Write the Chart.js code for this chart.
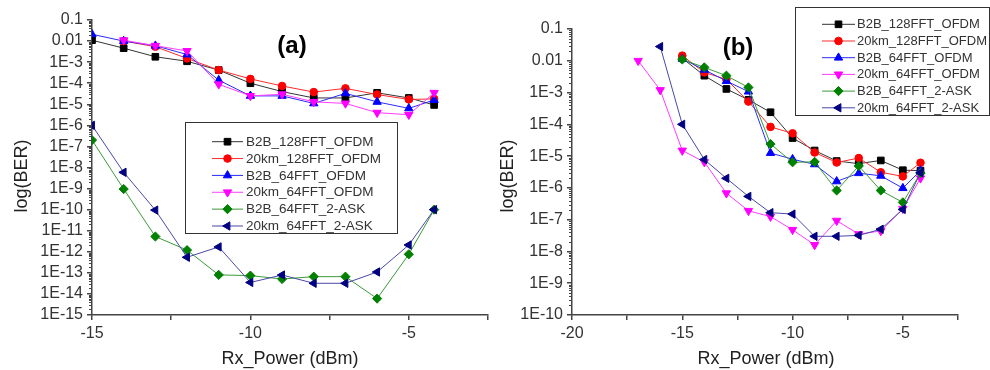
<!DOCTYPE html>
<html>
<head>
<meta charset="utf-8">
<script src="https://cdn.jsdelivr.net/npm/chart.js@4"></script>
<style>
html, body { margin: 0; padding: 0; background: #fff; }
body { width: 990px; height: 370px; position: relative; overflow: hidden; }
.panel { position: absolute; top: 0; width: 495px; height: 370px; }
</style>
</head>
<body>
<div class="panel" style="left:0"><canvas id="cA" width="495" height="370"></canvas></div>
<div class="panel" style="left:495px"><canvas id="cB" width="495" height="370"></canvas></div>
<script>
// series names (same in both panels)
const names = ['B2B_128FFT_OFDM', '20km_128FFT_OFDM', 'B2B_64FFT_OFDM',
               '20km_64FFT_OFDM', 'B2B_64FFT_2-ASK', '20km_64FFT_2-ASK'];

// panel (a)
const xA = [-15, -14, -13, -12, -11, -10, -9, -8, -7, -6, -5, -4.2];
const a_b2b128   = [1.1e-2, 4.6e-3, 1.8e-3, 1.1e-3, 4.2e-4, 1.0e-4, 4.0e-5, 2.0e-5, 2.0e-5, 3.5e-5, 2.0e-5, 9.3e-6];
const a_20km128  = [null, 1.0e-2, 5.4e-3, 1.5e-3, 4.2e-4, 1.6e-4, 7.4e-5, 3.8e-5, 5.7e-5, 2.9e-5, 1.7e-5, 1.8e-5];
const a_b2b64    = [2.1e-2, 1.0e-2, 6.0e-3, 2.3e-3, 1.4e-4, 2.5e-5, 2.5e-5, 1.1e-5, 3.3e-5, 1.3e-5, 6.4e-6, 1.6e-5];
const a_20km64   = [null, 1.1e-2, 6.0e-3, 3.4e-3, 8.9e-5, 2.5e-5, 3.0e-5, 1.3e-5, 1.1e-5, 4.0e-6, 3.2e-6, 3.5e-5];
const a_b2bask   = [2.0e-7, 9.5e-10, 5.3e-12, 1.2e-12, 8.0e-14, 7.4e-14, 5.1e-14, 6.6e-14, 6.6e-14, 6.0e-15, 7.6e-13, 1.0e-10];
const a_20kmask  = [1.0e-6, 5.9e-9, 9.5e-11, 5.5e-13, 1.7e-12, 3.5e-14, 7.9e-14, 3.2e-14, 3.2e-14, 1.1e-13, 2.1e-12, 1.0e-10];

// panel (b)
const xB = [-17, -16, -15, -14, -13, -12, -11, -10, -9, -8, -7, -6, -5, -4.2];
const b_b2b128   = [null, null, 1.2e-2, 3.4e-3, 1.3e-3, 5.9e-4, 2.4e-4, 3.7e-5, 1.5e-5, 7.0e-6, 5.8e-6, 7.3e-6, 3.6e-6, 3.5e-6];
const b_20km128  = [null, null, 1.45e-2, 4.3e-3, 2.6e-3, 5.2e-4, 8.3e-5, 5.2e-5, 1.3e-5, 6.3e-6, 8.7e-6, 3.1e-6, 2.3e-6, 6.2e-6];
const b_b2b64    = [null, null, 1.15e-2, 5.2e-3, 2.3e-3, 1.07e-3, 1.25e-5, 8.0e-6, 5.5e-6, 1.6e-6, 2.9e-6, 2.4e-6, 9.8e-7, 3.5e-6];
const b_20km64   = [1.0e-2, 1.2e-3, 1.5e-5, 6.5e-6, 6.8e-7, 1.9e-7, 1.25e-7, 4.8e-8, 1.6e-8, 9.3e-8, 3.5e-8, 4.4e-8, 2.2e-7, 2.0e-6];
const b_b2bask   = [null, null, 1.1e-2, 6.2e-3, 3.4e-3, 1.45e-3, 2.4e-5, 6.4e-6, 6.6e-6, 8.3e-7, 4.9e-6, 8.3e-7, 3.5e-7, 2.9e-6];
const b_20kmask  = [null, 2.8e-2, 1.0e-4, 7.8e-6, 2.0e-6, 5.4e-7, 1.66e-7, 1.5e-7, 3.0e-8, 3.0e-8, 3.2e-8, 5.0e-8, 2.1e-7, 3.0e-6];

// y tick decades
const decA = [1e-15, 1e-14, 1e-13, 1e-12, 1e-11, 1e-10, 1e-9, 1e-8, 1e-7, 1e-6, 1e-5, 1e-4, 1e-3, 1e-2, 1e-1];
const decB = [1e-10, 1e-9, 1e-8, 1e-7, 1e-6, 1e-5, 1e-4, 1e-3, 1e-2, 1e-1];

// marker styles
const colors    = ['#000000', '#ff0000', '#0000ff', '#ff00ff', '#008000', '#000080'];
const lineCols  = ['#333333', '#ff2a2a', '#2a2aff', '#ff3cff', '#3a9a3a', '#4848a8'];
const shapes    = ['rect', 'circle', 'triangle', 'triangle', 'rectRot', 'triangle'];
const rotations = [0, 0, 0, 180, 0, -90];
const radii     = [4.7, 3.8, 4.8, 4.8, 4.6, 4.8];

function fmtBER(v) {
  const e = Math.round(Math.log10(v));
  if (e === -1) return '0.1';
  if (e === -2) return '0.01';
  return '1E' + e;
}

const decor = {
  id: 'decor',
  afterDraw(chart, args, o) {
    const ctx = chart.ctx, ya = chart.scales.y, area = chart.chartArea;
    ctx.save();
    // minor log ticks
    ctx.strokeStyle = '#444';
    ctx.lineWidth = 1;
    ctx.beginPath();
    const e0 = Math.round(Math.log10(ya.min)), e1 = Math.round(Math.log10(ya.max));
    for (let e = e0; e < e1; e++) {
      for (let k = 2; k <= 9; k++) {
        const py = Math.round(ya.getPixelForValue(k * Math.pow(10, e))) + 0.5;
        ctx.moveTo(area.left - 3, py);
        ctx.lineTo(area.left, py);
      }
    }
    ctx.stroke();

    // axis titles
    ctx.fillStyle = '#222';
    ctx.font = '18px Arial, "Liberation Sans", sans-serif';
    ctx.textAlign = 'center';
    ctx.textBaseline = 'alphabetic';
    ctx.fillText('Rx_Power (dBm)', o.xTitleX, 364);
    ctx.save();
    ctx.translate(o.yTitleX, 176);
    ctx.rotate(-Math.PI / 2);
    ctx.fillText('log(BER)', 0, 0);
    ctx.restore();

    // panel label
    ctx.font = 'bold 24px Arial, "Liberation Sans", sans-serif';
    ctx.fillStyle = '#000';
    ctx.textBaseline = 'middle';
    ctx.fillText(o.label, o.labelX, o.labelY);

    // legend
    const L = o.legend;
    ctx.strokeStyle = '#333';
    ctx.lineWidth = 1;
    ctx.strokeRect(L.x0 + 0.5, L.y0 + 0.5, L.x1 - L.x0, L.y1 - L.y0);
    ctx.font = L.font + 'px Arial, "Liberation Sans", sans-serif';
    ctx.textAlign = 'left';
    chart.data.datasets.forEach((ds, i) => {
      const y = L.row0 + i * L.step;
      ctx.strokeStyle = lineCols[i];
      ctx.beginPath();
      ctx.moveTo(L.lx0, y);
      ctx.lineTo(L.lx1, y);
      ctx.stroke();
      ctx.fillStyle = colors[i];
      ctx.strokeStyle = colors[i];
      Chart.helpers.drawPoint(ctx, {
        pointStyle: shapes[i], radius: radii[i], rotation: rotations[i], borderWidth: 1
      }, (L.lx0 + L.lx1) / 2, y);
      ctx.fillStyle = '#333';
      ctx.fillText(names[i], L.tx, y + 0.5);
    });
    ctx.restore();
  }
};

function makeChart(id, xs, series, decades, opt) {
  const datasets = series.map((ys, i) => ({
    label: names[i],
    data: xs.map((x, j) => ({ x: x, y: ys[j] })).filter(p => p.y !== null),
    showLine: true,
    borderColor: lineCols[i],
    borderWidth: 1,
    pointStyle: shapes[i],
    pointRotation: rotations[i],
    pointRadius: radii[i],
    pointBackgroundColor: colors[i],
    pointBorderColor: colors[i],
    pointBorderWidth: 1,
    order: 10 - i
  }));
  const tickFont = { family: 'Arial, "Liberation Sans", sans-serif', size: 16 };
  return new Chart(document.getElementById(id), {
    type: 'scatter',
    data: { datasets },
    options: {
      responsive: false,
      animation: false,
      events: [],
      layout: { padding: { left: 0, top: opt.top, right: 495 - opt.right, bottom: 0 } },
      scales: {
        x: {
          type: 'linear', min: opt.xMin, max: -2.5,
          afterFit: s => { s.height = 55; },
          ticks: {
            stepSize: 2.5, autoSkip: false, maxRotation: 0, padding: 4,
            color: '#333', font: tickFont,
            callback: v => (v % 5 === 0 ? String(v) : '')
          },
          grid: { drawOnChartArea: false, tickLength: 5, color: '#444', lineWidth: 1.5 },
          border: { color: '#444', width: 1.5 }
        },
        y: {
          type: 'logarithmic', min: decades[0], max: decades[decades.length - 1],
          afterFit: s => { s.width = opt.left; },
          afterBuildTicks: s => { s.ticks = decades.map(v => ({ value: v })); },
          ticks: { padding: 4, color: '#333', font: tickFont, autoSkip: false, callback: v => fmtBER(v) },
          grid: { drawOnChartArea: false, tickLength: 5, color: '#444', lineWidth: 1.5 },
          border: { color: '#444', width: 1.5 }
        }
      },
      plugins: {
        legend: { display: false },
        tooltip: { enabled: false },
        decor: opt.decor
      }
    },
    plugins: [decor]
  });
}

makeChart('cA', xA, [a_b2b128, a_20km128, a_b2b64, a_20km64, a_b2bask, a_20kmask], decA, {
  xMin: -15, left: 92, right: 488, top: 20,
  decor: {
    xTitleX: 290, yTitleX: 26.5, label: '(a)', labelX: 292, labelY: 46,
    legend: { x0: 185, y0: 122, x1: 397, y1: 233, row0: 141.7, step: 16.86,
              lx0: 212, lx1: 243, tx: 246, font: 13.5 }
  }
});

makeChart('cB', xB, [b_b2b128, b_20km128, b_b2b64, b_20km64, b_b2bask, b_20kmask], decB, {
  xMin: -20, left: 77, right: 463, top: 29,
  decor: {
    xTitleX: 271, yTitleX: 18.3, label: '(b)', labelX: 243, labelY: 48,
    legend: { x0: 300, y0: 7, x1: 494, y1: 115, row0: 24.3, step: 16.7,
              lx0: 327, lx1: 360, tx: 362, font: 13 }
  }
});
</script>
</body>
</html>
